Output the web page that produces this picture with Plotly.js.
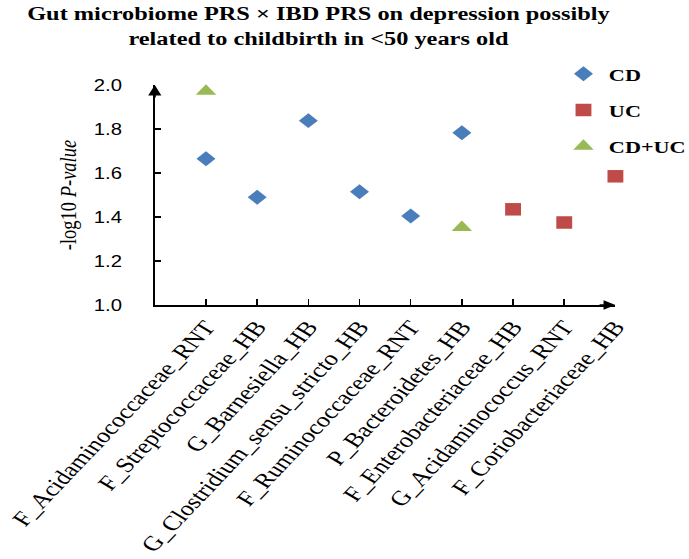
<!DOCTYPE html>
<html>
<head>
<meta charset="utf-8">
<script src="https://cdn.plot.ly/plotly-3.0.1.min.js"></script>
<style>
html,body{margin:0;padding:0;background:#fff;width:689px;height:559px;overflow:hidden;}
#chart{width:543px;height:559px;transform:scaleX(1.2689);transform-origin:0 0;}
</style>
</head>
<body>
<div id="chart"></div>
<script>
const categories = [
  "F_Acidaminococcaceae_RNT",
  "F_Streptococcaceae_HB",
  "G_Barnesiella_HB",
  "G_Clostridium_sensu_stricto_HB",
  "F_Ruminococcaceae_RNT",
  "P_Bacteroidetes_HB",
  "F_Enterobacteriaceae_HB",
  "G_Acidaminococcus_RNT",
  "F_Coriobacteriaceae_HB"
];
const cdCats = ["F_Acidaminococcaceae_RNT","F_Streptococcaceae_HB","G_Barnesiella_HB","G_Clostridium_sensu_stricto_HB","F_Ruminococcaceae_RNT","P_Bacteroidetes_HB"];
const cdVals = [1.665, 1.49, 1.838, 1.515, 1.405, 1.783];
const ucCats = ["F_Enterobacteriaceae_HB","G_Acidaminococcus_RNT","F_Coriobacteriaceae_HB"];
const ucVals = [1.435, 1.375, 1.585];
const bothCats = ["F_Acidaminococcaceae_RNT","P_Bacteroidetes_HB"];
const bothVals = [1.972, 1.352];
const yTicks = [1.0, 1.2, 1.4, 1.6, 1.8, 2.0];

const idx = c => categories.indexOf(c);
const serif = "Liberation Serif, Times New Roman, serif";
const sans = "Liberation Sans, Arial, sans-serif";

const W = 543, H = 559, ML = 122, MR = 58, MT = 85, MB = 254;

const traces = [
  {x: cdCats.map(idx), y: cdVals, name: "CD", mode: "markers", type: "scatter", legendgroup: "a", cliponaxis: false,
   marker: {symbol: "diamond", size: 11.5, color: "#4a7ebb"}},
  {x: ucCats.map(idx), y: ucVals, name: "UC", mode: "markers", type: "scatter", legendgroup: "b", cliponaxis: false,
   marker: {symbol: "square", size: 12.5, color: "#be4b48"}},
  {x: bothCats.map(idx), y: bothVals, name: "CD+UC", mode: "markers", type: "scatter", legendgroup: "c", cliponaxis: false,
   marker: {symbol: "triangle-up", size: 14, color: "#98b954"}}
];

const layout = {
  width: W, height: H,
  paper_bgcolor: "#fff", plot_bgcolor: "#fff",
  margin: {l: ML, r: MR, t: MT, b: MB, autoexpand: false},
  title: {text: "<b>Gut microbiome PRS × IBD PRS on depression possibly<br>related to childbirth in <50 years old</b>",
          font: {family: serif, size: 19.2, color: "#000"}, xref: "container", x: 0.4622, xanchor: "center",
          yref: "container", y: 0.9635, yanchor: "top"},
  showlegend: true,
  legend: {xref: "container", x: 0.81, xanchor: "left", yref: "container", y: 0.9, yanchor: "top",
           traceorder: "grouped", tracegroupgap: 10.5,
           font: {family: serif, size: 17.5, color: "#000", weight: "bold"}, bgcolor: "rgba(0,0,0,0)", itemwidth: 30},
  xaxis: {range: [-1, 8], tickvals: categories.map((c, i) => i), ticktext: categories, tickangle: -53,
          ticklabeloverflow: "allow",
          showgrid: false, zeroline: false, showline: true, linecolor: "#000", linewidth: 1.7,
          ticks: "inside", ticklen: 6, tickcolor: "#000", tickwidth: 1.2,
          tickfont: {family: serif, size: 20.8, color: "#000"}},
  yaxis: {range: [1, 2], tickvals: yTicks, ticktext: yTicks.map(v => v.toFixed(1)),
          ticklabeloverflow: "allow",
          showgrid: false, zeroline: false, showline: true, linecolor: "#000", linewidth: 1.6,
          ticks: "inside", ticklen: 5, tickcolor: "#000", tickwidth: 1.2,
          ticklabelstandoff: 21,
          tickfont: {family: sans, size: 16, color: "#000"},
          title: {text: "-log10 <i>P-value</i>", font: {family: serif, size: 18.5, color: "#000"}, standoff: 8}},
  annotations: [
    {xref: "paper", yref: "paper", x: 1, y: 0, ax: -14, ay: 0, text: "", showarrow: true,
     arrowhead: 2, arrowsize: 1.1, arrowwidth: 1.7, arrowcolor: "#000", standoff: 0},
    {xref: "paper", yref: "paper", x: 0, y: 1, ax: 0, ay: 14, text: "", showarrow: true,
     arrowhead: 2, arrowsize: 1.3, arrowwidth: 1.6, arrowcolor: "#000", standoff: 0}
  ]
};

Plotly.newPlot("chart", traces, layout, {displayModeBar: false, staticPlot: true});
</script>
</body>
</html>
